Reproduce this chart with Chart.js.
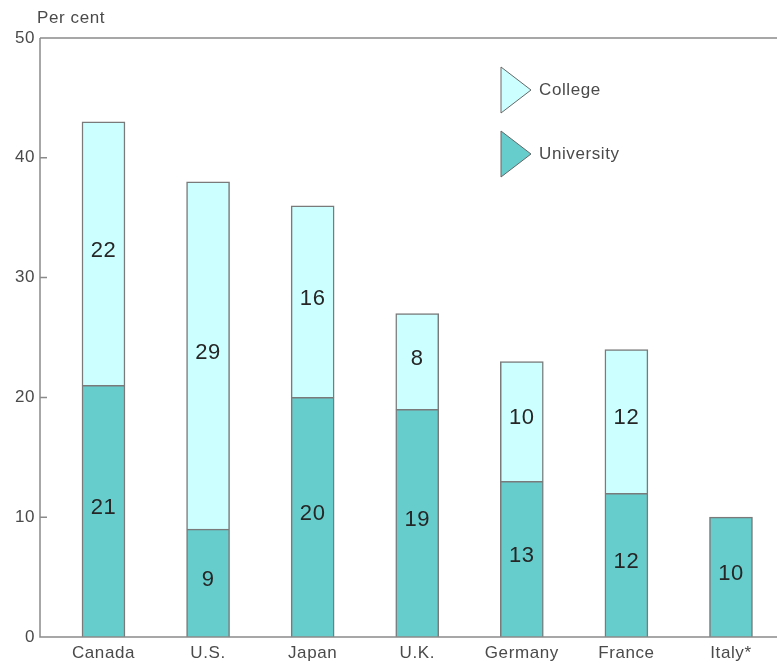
<!DOCTYPE html>
<html>
<head>
<meta charset="utf-8">
<script src="https://cdn.jsdelivr.net/npm/chart.js@4"></script>
<style>
  html, body { margin: 0; padding: 0; background: #fff; overflow: hidden; }
  #wrap { width: 777px; height: 663px; }
</style>
</head>
<body>
<div id="wrap"><canvas id="c" width="777" height="663"></canvas></div>
<script>
const categories = ['Canada', 'U.S.', 'Japan', 'U.K.', 'Germany', 'France', 'Italy*'];
const university = [21, 9, 20, 19, 13, 12, 10];
const college = [22, 29, 16, 8, 10, 12, null];
const yTicks = [0, 10, 20, 30, 40, 50];

const COLLEGE_FILL = '#ccffff';
const UNIV_FILL = '#66cccc';
const EDGE = '#7a7a7a';
const AXIS = '#8a8a8a';
const FONT = '"Liberation Sans", Arial, sans-serif';
const TEXT = '#4a4a4a';

const toPoints = arr => arr.map((v, i) => ({ x: i, y: v }));

// Slightly open lettering for all canvas text
const spacing = {
  id: 'spacing',
  beforeDraw(chart) { chart.ctx.letterSpacing = '0.6px'; }
};

// Inward tick marks, axis lines, "Per cent" title, value labels and legend
const decor = {
  id: 'decor',
  afterDatasetsDraw(chart) {
    const { ctx, chartArea: a, scales: { y } } = chart;
    ctx.save();
    ctx.strokeStyle = AXIS;
    ctx.lineWidth = 1.5;
    ctx.beginPath();
    ctx.moveTo(a.left, a.top);
    ctx.lineTo(a.left, a.bottom);
    ctx.lineTo(a.right, a.bottom);
    ctx.moveTo(a.left, a.top);
    ctx.lineTo(a.right, a.top);
    yTicks.forEach(t => {
      const py = y.getPixelForValue(t);
      ctx.moveTo(a.left, py);
      ctx.lineTo(a.left + 7, py);
    });
    ctx.stroke();

    ctx.fillStyle = TEXT;
    ctx.font = '17px ' + FONT;
    ctx.textAlign = 'left';
    ctx.textBaseline = 'middle';
    ctx.fillText('Per cent', a.left - 3, 18);

    ctx.fillStyle = '#262626';
    ctx.font = '22px ' + FONT;
    ctx.textAlign = 'center';
    chart.data.datasets.forEach((ds, di) => {
      const meta = chart.getDatasetMeta(di);
      meta.data.forEach((el, i) => {
        const v = ds.data[i].y;
        if (v == null) return;
        const mid = (el.y + el.base) / 2;
        ctx.fillText(String(v), el.x, mid - 3);
      });
    });

    const items = [
      { label: 'College', fill: COLLEGE_FILL, cy: 90 },
      { label: 'University', fill: UNIV_FILL, cy: 154 }
    ];
    items.forEach(it => {
      ctx.beginPath();
      ctx.moveTo(501, it.cy - 23);
      ctx.lineTo(531, it.cy);
      ctx.lineTo(501, it.cy + 23);
      ctx.closePath();
      ctx.fillStyle = it.fill;
      ctx.fill();
      ctx.strokeStyle = '#666';
      ctx.lineWidth = 1;
      ctx.stroke();
      ctx.fillStyle = TEXT;
      ctx.font = '17px ' + FONT;
      ctx.textAlign = 'left';
      ctx.fillText(it.label, 539, it.cy);
    });
    ctx.restore();
  }
};

new Chart(document.getElementById('c'), {
  type: 'bar',
  data: {
    datasets: [
      {
        label: 'University',
        data: toPoints(university),
        backgroundColor: UNIV_FILL,
        borderColor: EDGE,
        borderWidth: 1.5,
        barThickness: 43
      },
      {
        label: 'College',
        data: toPoints(college),
        backgroundColor: COLLEGE_FILL,
        borderColor: EDGE,
        borderWidth: 1.5,
        barThickness: 43
      }
    ]
  },
  options: {
    responsive: false,
    animation: false,
    layout: { padding: { top: 38, right: 0, left: 0, bottom: 0 } },
    plugins: { legend: { display: false }, tooltip: { enabled: false } },
    scales: {
      x: {
        type: 'linear',
        stacked: true,
        offset: false,
        bounds: 'data',
        min: -0.607,
        max: 6.44,
        afterBuildTicks: s => { s.ticks = categories.map((_, i) => ({ value: i })); },
        afterFit: s => { s.height = 26; },
        grid: { display: false, drawTicks: false, offset: false },
        border: { display: false },
        ticks: {
          autoSkip: false,
          maxRotation: 0,
          padding: 6,
          color: TEXT,
          font: { family: FONT, size: 17 },
          callback: v => categories[v] ?? ''
        }
      },
      y: {
        stacked: true,
        min: 0,
        max: 50,
        afterBuildTicks: s => { s.ticks = yTicks.map(v => ({ value: v })); },
        afterFit: s => { s.width = 40; },
        grid: { display: false, drawTicks: false },
        border: { display: false },
        ticks: {
          padding: 5,
          color: TEXT,
          font: { family: FONT, size: 17 }
        }
      }
    }
  },
  plugins: [spacing, decor]
});
</script>
</body>
</html>
